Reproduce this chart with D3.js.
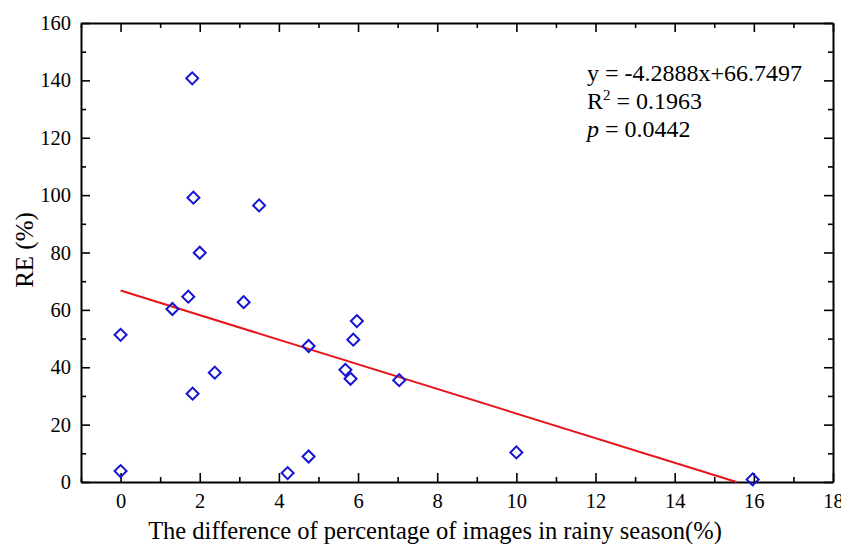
<!DOCTYPE html>
<html>
<head>
<meta charset="utf-8">
<script src="https://cdn.jsdelivr.net/npm/d3@7"></script>
<style>
  html, body { margin: 0; padding: 0; background: #fff; }
  svg { display: block; font-family: "Liberation Serif", "Times New Roman", serif; }
</style>
</head>
<body>
<svg id="chart" width="841" height="544"></svg>
<script>
// Data
const xValues = [0, 0, 1.31, 1.71, 1.81, 1.84, 2.0, 1.82, 2.38, 3.11, 3.50, 4.22, 4.75, 4.75, 5.68, 5.81, 5.88, 5.97, 7.04, 10.0, 15.97];
const yValues = [3.8, 51.3, 60.3, 64.6, 140.7, 99.1, 79.9, 30.8, 38.1, 62.7, 96.4, 3.1, 47.4, 8.9, 39.1, 36.0, 49.6, 56.1, 35.5, 10.3, 0.9];
const slope = -4.2888;
const intercept = 66.7497;
const xMajorTicks = [0, 2, 4, 6, 8, 10, 12, 14, 16, 18];
const xMinorTicks = [-1, 1, 3, 5, 7, 9, 11, 13, 15, 17];
const yMajorTicks = [0, 20, 40, 60, 80, 100, 120, 140, 160];
const yMinorTicks = [10, 30, 50, 70, 90, 110, 130, 150];

const svg = d3.select("#chart");
const margin = { left: 81, right: 833, top: 23, bottom: 482 };
const x = d3.scaleLinear().domain([-1, 18]).range([margin.left, margin.right]);
const y = d3.scaleLinear().domain([0, 160]).range([margin.bottom, margin.top]);

function styleAxis(g) {
  g.selectAll(".domain").attr("stroke", "#000").attr("stroke-width", 2);
  g.selectAll(".tick line").attr("stroke", "#000").attr("stroke-width", 1.6);
  g.selectAll(".tick text").attr("fill", "#000").style("font-size", "20.5px")
    .style("font-family", '"Liberation Serif", "Times New Roman", serif');
}

// Bottom axis
const gB = svg.append("g").attr("transform", `translate(0,${margin.bottom})`)
  .call(d3.axisBottom(x).tickValues(xMajorTicks).tickSizeInner(-9).tickSizeOuter(0).tickPadding(11).tickFormat(d3.format("d")));
styleAxis(gB);
svg.append("g").attr("transform", `translate(0,${margin.bottom})`)
  .call(d3.axisBottom(x).tickValues(xMinorTicks).tickSizeInner(-5).tickSizeOuter(0).tickFormat(""))
  .call(g => { g.select(".domain").remove(); styleAxis(g); });

// Top axis
const gT = svg.append("g").attr("transform", `translate(0,${margin.top})`)
  .call(d3.axisTop(x).tickValues(xMajorTicks).tickSizeInner(-9).tickSizeOuter(0).tickFormat(""));
styleAxis(gT);
svg.append("g").attr("transform", `translate(0,${margin.top})`)
  .call(d3.axisTop(x).tickValues(xMinorTicks).tickSizeInner(-5).tickSizeOuter(0).tickFormat(""))
  .call(g => { g.select(".domain").remove(); styleAxis(g); });

// Left axis
const gL = svg.append("g").attr("transform", `translate(${margin.left},0)`)
  .call(d3.axisLeft(y).tickValues(yMajorTicks).tickSizeInner(-9).tickSizeOuter(0).tickPadding(10).tickFormat(d3.format("d")));
styleAxis(gL);
svg.append("g").attr("transform", `translate(${margin.left},0)`)
  .call(d3.axisLeft(y).tickValues(yMinorTicks).tickSizeInner(-5).tickSizeOuter(0).tickFormat(""))
  .call(g => { g.select(".domain").remove(); styleAxis(g); });

// Right axis
const gR = svg.append("g").attr("transform", `translate(${margin.right},0)`)
  .call(d3.axisRight(y).tickValues(yMajorTicks).tickSizeInner(-9).tickSizeOuter(0).tickFormat(""));
styleAxis(gR);
svg.append("g").attr("transform", `translate(${margin.right},0)`)
  .call(d3.axisRight(y).tickValues(yMinorTicks).tickSizeInner(-5).tickSizeOuter(0).tickFormat(""))
  .call(g => { g.select(".domain").remove(); styleAxis(g); });

// Regression line from x=0 to where y=0
const xEnd = -intercept / slope;
const lineData = [0, xEnd].map(v => ({ x: v, y: intercept + slope * v }));
svg.append("path")
  .datum(lineData)
  .attr("fill", "none")
  .attr("stroke", "#e8141a")
  .attr("stroke-width", 2)
  .attr("d", d3.line().x(d => x(d.x)).y(d => y(d.y)));

// Points (hollow diamonds)
const pts = xValues.map((v, i) => ({ x: v, y: yValues[i] }));
const sym = d3.symbol().type(d3.symbolSquare).size(72);
svg.append("g").selectAll("path")
  .data(pts)
  .join("path")
  .attr("d", sym)
  .attr("transform", d => `translate(${x(d.x)},${y(d.y)}) rotate(45)`)
  .attr("fill", "none")
  .attr("stroke", "#1414d2")
  .attr("stroke-width", 2);

// Axis titles
svg.append("text")
  .attr("x", 435).attr("y", 539)
  .attr("text-anchor", "middle")
  .style("font-size", "24.5px")
  .attr("fill", "#000")
  .text("The difference of percentage of images in rainy season(%)");

svg.append("text")
  .attr("transform", "translate(33,250) rotate(-90)")
  .attr("text-anchor", "middle")
  .style("font-size", "25px")
  .attr("fill", "#000")
  .text("RE (%)");

// Annotation
const ann = svg.append("g").style("font-size", "24px").attr("fill", "#000");
ann.append("text").attr("x", 587).attr("y", 81).text("y = -4.2888x+66.7497");
const t2 = ann.append("text").attr("x", 587).attr("y", 109);
t2.append("tspan").text("R");
t2.append("tspan").attr("dy", -9).style("font-size", "15px").text("2");
t2.append("tspan").attr("dy", 9).text(" = 0.1963");
const t3 = ann.append("text").attr("x", 587).attr("y", 137);
t3.append("tspan").style("font-style", "italic").text("p");
t3.append("tspan").text(" = 0.0442");
</script>
</body>
</html>
